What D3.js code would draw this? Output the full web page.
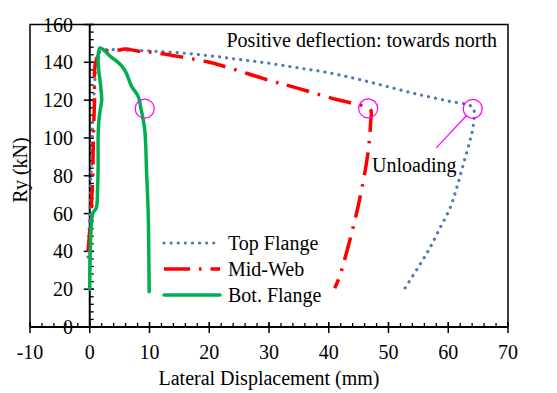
<!DOCTYPE html>
<html>
<head>
<meta charset="utf-8">
<script src="https://cdn.jsdelivr.net/npm/d3@7"></script>
<style>
  body { margin: 0; background: #fff; }
  svg { display: block; font-family: "Liberation Serif", "Times New Roman", serif; }
</style>
</head>
<body>
<svg width="557" height="393"></svg>
<script>
// series: [lateral displacement (mm), Ry (kN)]
var topFlange = [[-0.3, 37], [0, 60], [0.2, 80], [0.4, 100], [0.6, 115], [0.9, 132], [1.3, 144], [2.5, 146.5],
  [5, 146.5], [10, 146], [15, 145], [20, 143.5], [25, 141.5], [30, 139.5], [35, 137], [40, 134.5], [45, 131],
  [50, 127], [55, 123], [60, 119.5], [64.1, 116], [64.2, 107], [63.6, 98.2], [62.5, 85.8], [61.4, 73.5],
  [60.3, 62.9], [58.6, 52.3], [56.9, 41.7], [55.2, 32.8], [52.4, 18.7]];
var midWeb = [[-0.3, 40], [-0.1, 47], [0.2, 60], [0.5, 80], [0.6, 100], [0.8, 120], [1.0, 140], [2, 145.5],
  [4, 146], [6, 147], [8, 146], [10, 145.5], [15, 143], [20, 140], [23.4, 137], [30, 130.5], [34.6, 126.5],
  [41.3, 120.3], [45.7, 117], [47, 115], [47, 108], [46.6, 93], [45.5, 72.6], [44.1, 53], [41.8, 26.6], [41, 20.5]];
var botFlange = [[0, 20], [0.05, 35], [0.2, 50], [0.5, 60], [1.1, 63], [1.3, 72], [1.4, 85], [1.4, 100],
  [1.5, 108], [1.7, 114], [2.0, 120], [1.8, 128], [1.5, 136], [1.4, 143], [1.7, 147.6], [2.5, 146], [3.5, 143],
  [4.5, 140.6], [5.5, 137.5], [6.1, 134.4], [7, 127.3], [8.1, 122], [8.6, 115], [9.2, 104.4], [9.5, 83.2],
  [9.8, 58.4], [9.9, 33.7], [9.95, 18.7]];
var unloadPoints = [[9.2, 115.5], [46.6, 115.6], [64.1, 115.4]];
var unloadLabelAt = [58.0, 94.7];
var xTicks = [-10, 0, 10, 20, 30, 40, 50, 60, 70];
var yTicks = [0, 20, 40, 60, 80, 100, 120, 140, 160];
var seriesNames = ["Top Flange", "Mid-Web", "Bot. Flange"];

var svg = d3.select("svg"),
  plotL = 30, plotR = 508, plotT = 24.5, plotB = 327;

var x = d3.scaleLinear().domain([-10, 70]).range([plotL, plotR]),
  y = d3.scaleLinear().domain([0, 160]).range([plotB, plotT]);

// frame
svg.append("path")
  .attr("d", "M" + plotL + "," + plotB + "V" + plotT + "H" + plotR + "V" + plotB)
  .attr("fill", "none").attr("stroke", "#000").attr("stroke-width", 1.5);

// x axis on y = 0
var xAxis = svg.append("g");
xAxis.selectAll(".minor").data(d3.range(-10, 70.1, 2)).enter().append("line")
  .attr("x1", function(d) { return x(d); }).attr("x2", function(d) { return x(d); })
  .attr("y1", y(0) - 4).attr("y2", y(0))
  .attr("stroke", "#000").attr("stroke-width", 1.3);
xAxis.selectAll(".major").data(xTicks).enter().append("line")
  .attr("x1", function(d) { return x(d); }).attr("x2", function(d) { return x(d); })
  .attr("y1", y(0) - 5).attr("y2", y(0) + 6)
  .attr("stroke", "#000").attr("stroke-width", 1.5);
xAxis.append("line")
  .attr("x1", plotL).attr("x2", plotR).attr("y1", y(0)).attr("y2", y(0))
  .attr("stroke", "#000").attr("stroke-width", 2);
xAxis.selectAll("text").data(xTicks).enter().append("text")
  .attr("x", function(d) { return x(d); }).attr("y", 359)
  .attr("text-anchor", "middle").attr("font-size", 20)
  .text(function(d) { return d; });

// y axis on x = 0
var yAxis = svg.append("g");
yAxis.selectAll(".minor").data(d3.range(0, 160.1, 4)).enter().append("line")
  .attr("x1", x(0)).attr("x2", x(0) + 4)
  .attr("y1", function(d) { return y(d); }).attr("y2", function(d) { return y(d); })
  .attr("stroke", "#000").attr("stroke-width", 1.3);
yAxis.selectAll(".major").data(yTicks).enter().append("line")
  .attr("x1", x(0) - 6).attr("x2", x(0) + 4)
  .attr("y1", function(d) { return y(d); }).attr("y2", function(d) { return y(d); })
  .attr("stroke", "#000").attr("stroke-width", 1.5);
yAxis.append("line")
  .attr("x1", x(0)).attr("x2", x(0)).attr("y1", plotT).attr("y2", plotB)
  .attr("stroke", "#000").attr("stroke-width", 2);
yAxis.selectAll("text").data(yTicks).enter().append("text")
  .attr("x", 73).attr("y", function(d) { return y(d) + 7; })
  .attr("text-anchor", "end").attr("font-size", 20)
  .text(function(d) { return d; });

svg.append("text")
  .attr("x", (plotL + plotR) / 2).attr("y", 385)
  .attr("text-anchor", "middle").attr("font-size", 20)
  .text("Lateral Displacement (mm)");
svg.append("text")
  .attr("transform", "translate(27," + 170 + ") rotate(-90)")
  .attr("text-anchor", "middle").attr("font-size", 20)
  .text("Ry (kN)");

// series
var line = d3.line()
  .x(function(d) { return x(d[0]); })
  .y(function(d) { return y(d[1]); })
  .curve(d3.curveCatmullRom.alpha(0.5));

var styles = [
  { color: "#5479b4", width: 3.2, dash: "0.1,7", cap: "round" },
  { color: "#ff0000", width: 3.5, dash: "23,9,2.5,9", cap: "butt" },
  { color: "#00b050", width: 3.5, dash: null, cap: "round" }
];
[topFlange, midWeb, botFlange].forEach(function(data, i) {
  svg.append("path")
    .datum(data)
    .attr("d", line)
    .attr("fill", "none")
    .attr("stroke", styles[i].color)
    .attr("stroke-width", styles[i].width)
    .attr("stroke-dasharray", styles[i].dash)
    .attr("stroke-linecap", styles[i].cap)
    .attr("stroke-linejoin", "round");
});

// unloading markers
svg.selectAll(".ring").data(unloadPoints).enter().append("circle")
  .attr("cx", function(d) { return x(d[0]); })
  .attr("cy", function(d) { return y(d[1]); })
  .attr("r", 9.5)
  .attr("fill", "none").attr("stroke", "#ff00ff").attr("stroke-width", 1.2);
var last = unloadPoints[2],
  ang = Math.atan2(y(unloadLabelAt[1]) - y(last[1]), x(unloadLabelAt[0]) - x(last[0]));
svg.append("line")
  .attr("x1", x(unloadLabelAt[0])).attr("y1", y(unloadLabelAt[1]))
  .attr("x2", x(last[0]) + 9.5 * Math.cos(ang)).attr("y2", y(last[1]) + 9.5 * Math.sin(ang))
  .attr("stroke", "#ff00ff").attr("stroke-width", 1.2);
svg.append("text")
  .attr("x", 372).attr("y", 172).attr("font-size", 20)
  .text("Unloading");

svg.append("text")
  .attr("x", 497).attr("y", 47)
  .attr("text-anchor", "end").attr("font-size", 20)
  .text("Positive deflection: towards north");

// legend
var legend = svg.append("g").selectAll("g").data(seriesNames).enter().append("g")
  .attr("transform", function(d, i) { return "translate(164," + (243 + i * 26) + ")"; });
legend.append("line")
  .attr("x1", 0).attr("x2", 56).attr("y1", 0).attr("y2", 0)
  .attr("stroke", function(d, i) { return styles[i].color; })
  .attr("stroke-width", function(d, i) { return styles[i].width; })
  .attr("stroke-dasharray", function(d, i) { return i == 1 ? "26,9,2.5,9" : styles[i].dash; })
  .attr("stroke-linecap", function(d, i) { return styles[i].cap; });
legend.append("text")
  .attr("x", 64).attr("y", 7).attr("font-size", 20)
  .text(function(d) { return d; });
</script>
</body>
</html>
